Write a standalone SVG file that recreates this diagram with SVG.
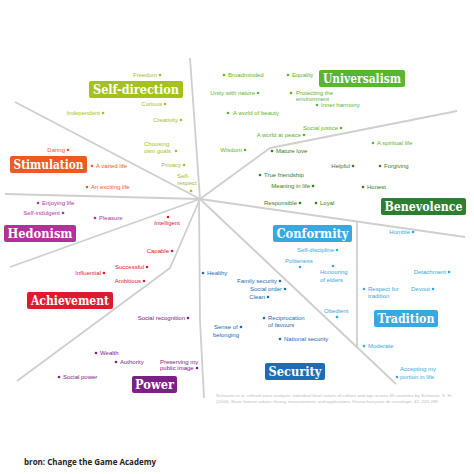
<svg xmlns="http://www.w3.org/2000/svg" width="474" height="474" viewBox="0 0 474 474">
<style>
text{font-family:"Liberation Sans",Arial,sans-serif;font-size:6px}
.t{font-family:"DejaVu Serif","Liberation Serif",serif;font-size:12.5px;font-weight:bold;fill:#fff;text-anchor:middle}
.e{text-anchor:end}
.sd{fill:#a3c21f}.un{fill:#5cb531}.be{fill:#3a7b24}.st{fill:#f05a22}.he{fill:#b42f9c}
.ac{fill:#e0192f}.po{fill:#7a2183}.se{fill:#1b6db5}.co{fill:#36a9e1}
.b{fill:#2f7d31}
.ln{stroke:#cfcfcf;stroke-width:1.8;fill:none;stroke-linejoin:round}
</style>
<rect width="474" height="474" fill="#fff"/>
<g id="connectors" class="ln">
<path d="M200,199 L190,58"/>
<path d="M200,199 L15,102"/>
<path d="M200,199 L5,194"/>
<path d="M200,199 L10,267"/>
<path d="M200,199 L170,268 L17,381"/>
<path d="M199,199 L200,320 L204,398"/>
<path d="M200,199 L396,384"/>
<path d="M357,222 L357,348"/>
<path d="M200,199 L465,237"/>
<path d="M200,199 L270,148 L457,111"/>
</g>
<g id="self-direction" class="sd">
<rect x="89" y="81" width="94" height="17" rx="2"/>
<text class="t" x="136" y="94" textLength="86" lengthAdjust="spacingAndGlyphs">Self-direction</text>
<text class="e" x="157" y="77">Freedom</text><circle cx="160" cy="75" r="1.3"/>
<text class="e" x="162" y="106">Curious</text><circle cx="165" cy="104" r="1.3"/>
<text class="e" x="100" y="115">Independent</text><circle cx="103" cy="113" r="1.3"/>
<text class="e" x="178" y="122">Creativity</text><circle cx="181" cy="120" r="1.3"/>
<text x="144" y="146">Choosing</text><text x="144" y="153">own goals</text><circle cx="176" cy="151" r="1.3"/>
<text class="e" x="181" y="167">Privacy</text><circle cx="184" cy="165" r="1.3"/>
<text x="177" y="178">Self-</text><text x="177" y="185">respect</text><circle cx="191" cy="191" r="1.3"/>
</g>
<g id="universalism" class="un">
<rect x="319" y="70" width="86" height="17" rx="2"/>
<text class="t" x="362" y="83" textLength="78" lengthAdjust="spacingAndGlyphs">Universalism</text>
<circle cx="224" cy="75" r="1.3"/><text x="228" y="77">Broadminded</text>
<circle cx="288" cy="75" r="1.3"/><text x="292" y="77">Equality</text>
<text class="e" x="255" y="95">Unity with nature</text><circle cx="258" cy="93" r="1.3"/>
<circle cx="291" cy="93" r="1.3"/><text x="296" y="95">Protecting the</text><text x="296" y="100.5">environment</text>
<circle cx="317" cy="105" r="1.3"/><text x="321" y="107">Inner harmony</text>
<circle cx="228" cy="113" r="1.3"/><text x="233" y="115">A world of beauty</text>
<text class="e" x="338" y="130">Social justice</text><circle cx="341" cy="128" r="1.3"/>
<text class="e" x="301" y="137">A world at peace</text><circle cx="304" cy="135" r="1.3"/>
<circle cx="373" cy="143" r="1.3"/><text x="377" y="145">A spiritual life</text>
<text class="e" x="242" y="152">Wisdom</text><circle cx="245" cy="150" r="1.3"/>
</g>
<g id="benevolence" class="be">
<rect class="b" x="381" y="198" width="85" height="17" rx="2"/>
<text class="t" x="423.5" y="211" textLength="78" lengthAdjust="spacingAndGlyphs">Benevolence</text>
<circle cx="272" cy="151" r="1.3"/><text x="276" y="153">Mature love</text>
<circle cx="260" cy="175" r="1.3"/><text x="264" y="177">True friendship</text>
<text class="e" x="310" y="188">Meaning in life</text><circle cx="313" cy="186" r="1.3"/>
<text class="e" x="350" y="168">Helpful</text><circle cx="353" cy="166" r="1.3"/>
<circle cx="380" cy="166" r="1.3"/><text x="384" y="168">Forgiving</text>
<circle cx="363" cy="187" r="1.3"/><text x="367" y="189">Honest</text>
<text class="e" x="297" y="205">Responsible</text><circle cx="300" cy="203" r="1.3"/>
<circle cx="316" cy="203" r="1.3"/><text x="320" y="205">Loyal</text>
</g>
<g id="stimulation" class="st">
<rect x="10" y="156" width="77" height="17" rx="2"/>
<text class="t" x="48.5" y="169" textLength="70" lengthAdjust="spacingAndGlyphs">Stimulation</text>
<text class="e" x="65" y="152">Daring</text><circle cx="68" cy="150" r="1.3"/>
<circle cx="92" cy="166" r="1.3"/><text x="96" y="168">A varied life</text>
<circle cx="87" cy="187" r="1.3"/><text x="91" y="189">An exciting life</text>
</g>
<g id="hedonism" class="he">
<rect x="4" y="225" width="72" height="17" rx="2"/>
<text class="t" x="40" y="238" textLength="65" lengthAdjust="spacingAndGlyphs">Hedonism</text>
<circle cx="38" cy="203" r="1.3"/><text x="42" y="205">Enjoying life</text>
<text class="e" x="60" y="215">Self-indulgent</text><circle cx="63" cy="213" r="1.3"/>
<circle cx="95" cy="218" r="1.3"/><text x="99" y="220">Pleasure</text>
</g>
<g id="achievement" class="ac">
<rect x="27" y="292" width="86" height="17" rx="2"/>
<text class="t" x="70" y="305" textLength="78" lengthAdjust="spacingAndGlyphs">Achievement</text>
<circle cx="168" cy="217" r="1.3"/><text x="167" y="225" text-anchor="middle">Intelligent</text>
<text class="e" x="169" y="253">Capable</text><circle cx="172" cy="251" r="1.3"/>
<text class="e" x="144" y="269">Successful</text><circle cx="147" cy="267" r="1.3"/>
<text class="e" x="101" y="275">Influential</text><circle cx="104" cy="273" r="1.3"/>
<text class="e" x="141" y="283">Ambitious</text><circle cx="144" cy="281" r="1.3"/>
</g>
<g id="power" class="po">
<rect x="132" y="376" width="45" height="17" rx="2"/>
<text class="t" x="154.5" y="389" textLength="39" lengthAdjust="spacingAndGlyphs">Power</text>
<text class="e" x="185" y="320">Social recognition</text><circle cx="188" cy="318" r="1.3"/>
<circle cx="96" cy="353" r="1.3"/><text x="100" y="355">Wealth</text>
<circle cx="116" cy="362" r="1.3"/><text x="120" y="364">Authority</text>
<circle cx="59" cy="377" r="1.3"/><text x="63" y="379">Social power</text>
<text x="160" y="364">Preserving my</text><text x="160" y="370">public image</text><circle cx="197" cy="368" r="1.3"/>
</g>
<g id="security" class="se">
<rect x="265" y="363" width="60" height="17" rx="2"/>
<text class="t" x="295" y="376" textLength="53" lengthAdjust="spacingAndGlyphs">Security</text>
<circle cx="203" cy="273" r="1.3"/><text x="207" y="275">Healthy</text>
<text class="e" x="277" y="283">Family security</text><circle cx="280" cy="281" r="1.3"/>
<text class="e" x="282" y="291">Social order</text><circle cx="285" cy="289" r="1.3"/>
<text class="e" x="265" y="299">Clean</text><circle cx="268" cy="297" r="1.3"/>
<circle cx="264" cy="318" r="1.3"/><text x="268" y="320">Reciprocation</text><text x="268" y="327">of favours</text>
<text x="214" y="329">Sense of</text><circle cx="241" cy="327" r="1.3"/><text x="213" y="337">belonging</text>
<circle cx="280" cy="339" r="1.3"/><text x="284" y="341">National security</text>
</g>
<g id="conformity" class="co">
<rect x="273" y="225" width="79" height="17" rx="2"/>
<text class="t" x="312.5" y="238" textLength="72" lengthAdjust="spacingAndGlyphs">Conformity</text>
<text class="e" x="334" y="252">Self-discipline</text><circle cx="337" cy="250" r="1.3"/>
<text x="285" y="263">Politeness</text><circle cx="300" cy="267" r="1.3"/>
<circle cx="333" cy="266" r="1.3"/><text x="320" y="274">Honouring</text><text x="320" y="282">of elders</text>
<text x="324" y="313">Obedient</text><circle cx="337" cy="317" r="1.3"/>
</g>
<g id="tradition" class="co">
<rect x="374" y="310" width="64" height="17" rx="2"/>
<text class="t" x="406" y="323" textLength="57" lengthAdjust="spacingAndGlyphs">Tradition</text>
<text class="e" x="410" y="234">Humble</text><circle cx="413" cy="232" r="1.3"/>
<text class="e" x="446" y="274">Detachment</text><circle cx="449" cy="272" r="1.3"/>
<text class="e" x="430" y="291">Devout</text><circle cx="433" cy="289" r="1.3"/>
<circle cx="364" cy="289" r="1.3"/><text x="368" y="291">Respect for</text><text x="368" y="298">tradition</text>
<circle cx="364" cy="346" r="1.3"/><text x="368" y="348">Moderate</text>
<text x="400" y="371">Accepting my</text><circle cx="397" cy="377" r="1.3"/><text x="400" y="379">portion in life</text>
</g>
<g id="footnote" fill="#bdbdbd">
<text x="216" y="396.5" style="font-size:3.6px" textLength="236" lengthAdjust="spacingAndGlyphs">Schwartz et al. refined value analysis: individual level values of culture and age across 49 countries by Schwartz, S. H.</text>
<text x="216" y="402.5" style="font-size:3.6px" textLength="223" lengthAdjust="spacingAndGlyphs">(2006). Basic human values: theory, measurement, and applications. Revue française de sociologie, 42, 249-288.</text>
</g>
<text x="24" y="465" style="font-family:'Open Sans','Liberation Sans',sans-serif;font-size:8.5px;font-weight:bold" fill="#222" textLength="132" lengthAdjust="spacingAndGlyphs">bron: Change the Game Academy</text>
</svg>
